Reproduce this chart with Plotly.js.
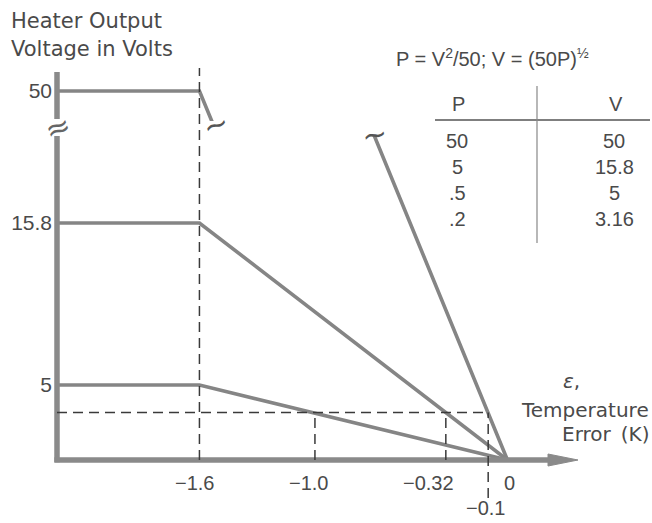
<!DOCTYPE html>
<html><head><meta charset="utf-8">
<script src="https://cdn.plot.ly/plotly-3.0.1.min.js"></script>
<style>html,body{margin:0;padding:0;background:#fff}</style>
</head><body>
<div id="chart" style="width:652px;height:523px"></div>
<script>
// ---- data ----
const xMin = -2.34, xMax = 0.377;          // temperature error axis extent (K)
const errX = [xMin, -1.6, 0];              // error breakpoints (K)
const v50 = [50, 50, 0];                   // P = 50 -> V = 50
const v158 = [15.8, 15.8, 0];              // P = 5  -> V = 15.8
const v5 = [5, 5, 0];                      // P = .5 -> V = 5
const guideV = 3.16;                       // P = .2 -> V = 3.16
const guideX = [-1.0, -0.32, -0.1];        // where V = 3.16 is reached
const breakX = -1.6;
const xTickVals = [-1.6, -1.0, -0.32, 0, -0.1];
const xTickText = ['\u22121.6', '\u22121.0', '\u22120.32', '0', '\u22120.1'];
const yTickLow = [5, 15.8], yTickLowText = ['5', '15.8'];
const yTickHigh = [50], yTickHighText = ['50'];
const tableP = ['50', '5', '.5', '.2'];
const tableV = ['50', '15.8', '5', '3.16'];

// ---- geometry helpers (layout only) ----
const W = 652, H = 523, ML = 57, MR = 72, MT = 72, MB = 63;
const PW = W - ML - MR, PH = H - MT - MB;
const px = p => (p - ML) / PW;
const py = p => (H - MB - p) / PH;
const yLowTop = 21.6;
const dLow = yLowTop * 15 / PH;
const dUp0 = py(121);
const yHighRange = [48, 48 + (1 - dUp0) * PH / 15];
const vToPaper = v => v / yLowTop * dLow;

const lineStyle = {color: '#858585', width: 3.6};
const mk = (y, xa, ya) => ({x: errX, y: y, xaxis: xa, yaxis: ya, type: 'scatter', mode: 'lines',
  line: lineStyle, hoverinfo: 'skip', showlegend: false});
const data = [mk(v50, 'x', 'y'), mk(v158, 'x', 'y'), mk(v5, 'x', 'y'), mk(v50, 'x2', 'y2')];

// line end points where the broken axis cuts the V = 50 line
const interp = (yv) => errX[1] + (v50[1] - yv) / (v50[1] - v50[2]) * (errX[2] - errX[1]);
const xUpEnd = interp(yHighRange[0]);
const xLowEnd = interp(yLowTop);

const numFont = {family: 'Liberation Sans, Arial, sans-serif', size: 20, color: '#4a4a4a'};
const yNumFont = Object.assign({}, numFont, {size: 21});
const txtFont = {family: 'DejaVu Sans, sans-serif', size: 20, color: '#4a4a4a'};
const axisColor = '#8a8a8a';
const dashLine = {color: '#3a3a3a', width: 1.5, dash: '10px,6px'};

const shapes = [
  // axes
  {type: 'line', xref: 'paper', yref: 'paper', x0: 0, x1: 0, y0: -0.006, y1: py(136), line: {color: axisColor, width: 5.5}},
  {type: 'line', xref: 'paper', yref: 'paper', x0: 0, x1: 0, y0: py(119), y1: 1, line: {color: axisColor, width: 5.5}},
  {type: 'line', xref: 'paper', yref: 'paper', x0: -0.005, x1: px(555), y0: 0, y1: 0, line: {color: axisColor, width: 5.5}},
  {type: 'path', xref: 'paper', yref: 'paper', xsizemode: 'pixel', ysizemode: 'pixel',
   xanchor: px(578), yanchor: 0, path: 'M-30,-6 L0,0 L-30,6 Z', fillcolor: axisColor, line: {color: axisColor, width: 1}},
  // dashed guides
  {type: 'line', xref: 'x', yref: 'paper', x0: breakX, x1: breakX, y0: 0, y1: py(68), line: dashLine},
  {type: 'line', xref: 'x', yref: 'y', x0: xMin, x1: guideX[2], y0: guideV, y1: guideV, line: dashLine},
  {type: 'line', xref: 'x', yref: 'y', x0: guideX[0], x1: guideX[0], y0: 0, y1: guideV, line: dashLine},
  {type: 'line', xref: 'x', yref: 'y', x0: guideX[1], x1: guideX[1], y0: 0, y1: guideV, line: dashLine},
  {type: 'line', xref: 'x', yref: 'paper', x0: guideX[2], x1: guideX[2], y0: py(498), y1: vToPaper(guideV), line: dashLine},
  // table rules
  {type: 'line', xref: 'paper', yref: 'paper', x0: px(435), x1: px(650), y0: py(120), y1: py(120), line: {color: '#555', width: 1.5}},
  {type: 'line', xref: 'paper', yref: 'paper', x0: px(537), x1: px(537), y0: py(86), y1: py(243), line: {color: '#888', width: 1.2}}
];

const ann = [];
const A = (o) => ann.push(Object.assign({showarrow: false}, o));
A({text: 'Heater Output', xref: 'paper', yref: 'paper', x: px(9), y: py(21), xanchor: 'left', yanchor: 'middle', font: Object.assign({}, txtFont, {size: 21})});
A({text: 'Voltage in Volts', xref: 'paper', yref: 'paper', x: px(9), y: py(49), xanchor: 'left', yanchor: 'middle', font: Object.assign({}, txtFont, {size: 21})});
A({text: 'P = V<sup>2</sup>/50; V = (50P)<sup>\u00bd</sup>', xref: 'paper', yref: 'paper', x: px(492), y: py(58), xanchor: 'center', yanchor: 'middle', font: numFont});
A({text: 'P', xref: 'paper', yref: 'paper', x: px(458), y: py(104), xanchor: 'center', yanchor: 'middle', font: numFont});
A({text: 'V', xref: 'paper', yref: 'paper', x: px(616), y: py(104), xanchor: 'center', yanchor: 'middle', font: numFont});
tableP.forEach((t, i) => A({text: t, xref: 'paper', yref: 'paper', x: px(457), y: py(141 + i * 26), xanchor: 'center', yanchor: 'middle', font: numFont}));
tableV.forEach((t, i) => A({text: t, xref: 'paper', yref: 'paper', x: px(614), y: py(141 + i * 26), xanchor: 'center', yanchor: 'middle', font: numFont}));
A({text: '<i>\u03b5</i>,', xref: 'paper', yref: 'paper', x: px(571), y: py(381), xanchor: 'center', yanchor: 'middle', font: txtFont});
A({text: 'Temperature', xref: 'paper', yref: 'paper', x: px(651), y: py(410), xanchor: 'right', yanchor: 'middle', font: txtFont});
A({text: 'Error\u2002(K)', xref: 'paper', yref: 'paper', x: px(651), y: py(434), xanchor: 'right', yanchor: 'middle', font: txtFont});
// x tick labels
const xTickShift = [-5, -6, -17, 2, -3];
const xTickRow = [483, 483, 483, 483, 508];
xTickVals.forEach((v, i) => A({text: xTickText[i], xref: 'x', yref: 'paper', x: v, y: py(xTickRow[i]), xshift: xTickShift[i],
  xanchor: 'center', yanchor: 'middle', font: numFont}));
// break marks
A({text: '\u2248', xref: 'paper', yref: 'paper', x: 0, y: py(127), xanchor: 'center', yanchor: 'middle', textangle: -20,
  font: {family: 'DejaVu Sans', size: 30, color: '#666'}});
A({text: '~', xref: 'x', yref: 'paper', x: xUpEnd, y: dUp0, xshift: 4, yshift: -3, xanchor: 'center', yanchor: 'middle', textangle: -20,
  font: {family: 'DejaVu Sans', size: 30, color: '#555'}});
A({text: '~', xref: 'x', yref: 'paper', x: xLowEnd, y: dLow, yshift: 2, xanchor: 'center', yanchor: 'middle', textangle: -10,
  font: {family: 'DejaVu Sans', size: 30, color: '#555'}});

const hid = {showgrid: false, zeroline: false, showline: false, ticks: '', showticklabels: false, fixedrange: true};
const layout = {
  width: W, height: H, margin: {l: ML, r: MR, t: MT, b: MB},
  paper_bgcolor: '#fff', plot_bgcolor: 'rgba(0,0,0,0)', showlegend: false,
  xaxis: Object.assign({}, hid, {domain: [0, 1], range: [xMin, xMax], anchor: 'y'}),
  xaxis2: Object.assign({}, hid, {domain: [0, 1], range: [xMin, xMax], anchor: 'y2', matches: 'x'}),
  yaxis: {domain: [0, dLow], range: [0, yLowTop], anchor: 'x', showgrid: false, zeroline: false, showline: false, ticks: '',
    tickmode: 'array', tickvals: yTickLow, ticktext: yTickLowText, tickfont: yNumFont, ticklabelstandoff: 4, fixedrange: true},
  yaxis2: {domain: [dUp0, 1], range: yHighRange, anchor: 'x2', showgrid: false, zeroline: false, showline: false, ticks: '',
    tickmode: 'array', tickvals: yTickHigh, ticktext: yTickHighText, tickfont: yNumFont, ticklabelstandoff: 4, fixedrange: true},
  shapes: shapes, annotations: ann
};
Plotly.newPlot('chart', data, layout, {staticPlot: true, displayModeBar: false});
</script>
</body></html>
